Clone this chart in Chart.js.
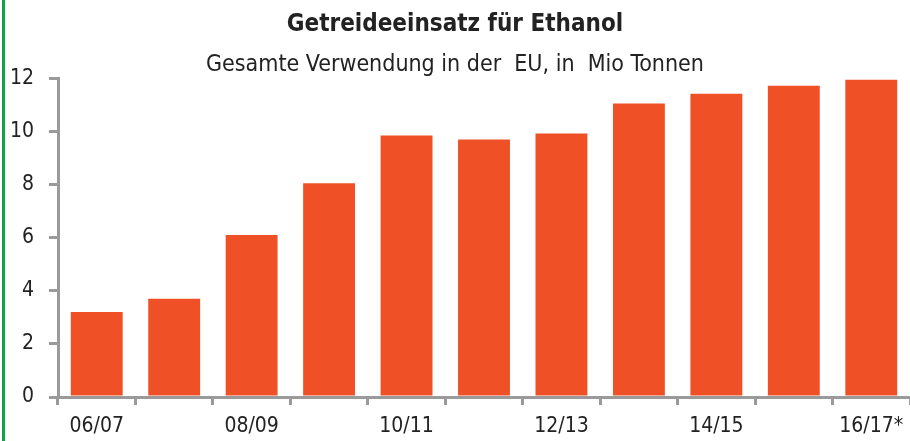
<!DOCTYPE html>
<html>
<head>
<meta charset="utf-8">
<script src="https://cdn.jsdelivr.net/npm/chart.js@4/dist/chart.umd.min.js"></script>
<style>
  html, body { margin: 0; padding: 0; background: #fff; }
  #wrap { position: relative; width: 910px; height: 441px; }
  #rand { position: absolute; left: 2px; top: 0; width: 3px; height: 441px; background: #12a04a; }
</style>
</head>
<body>
<div id="wrap">
  <canvas id="chart" width="910" height="441"></canvas>
  <div id="rand"></div>
</div>
<script>
// Wirtschaftsjahre und Getreideeinsatz (Mio t)
const jahre = ['06/07', '07/08', '08/09', '09/10', '10/11', '11/12', '12/13', '13/14', '14/15', '15/16', '16/17*'];
const werte = [3.2, 3.7, 6.1, 8.05, 9.85, 9.7, 9.92, 11.05, 11.42, 11.72, 11.95];
const yTicks = [0, 2, 4, 6, 8, 10, 12];

const schrift = "'Liberation Sans Narrow', 'DejaVu Sans Condensed', 'Roboto Condensed', sans-serif";
Chart.defaults.font.family = schrift;
Chart.defaults.color = '#222';

const achsenGrau = '#9a9a9a';

new Chart(document.getElementById('chart'), {
    type: 'bar',
    data: {
        labels: jahre,
        datasets: [{
            data: werte,
            backgroundColor: '#ef5026',
            borderWidth: 0,
            categoryPercentage: 1,
            barPercentage: 0.67
        }]
    },
    options: {
        responsive: false,
        animation: false,
        layout: { padding: { left: 0, right: 0, top: 0, bottom: 0 } },
        plugins: {
            legend: { display: false },
            tooltip: { enabled: false },
            title: {
                display: true,
                text: 'Getreideeinsatz für Ethanol',
                font: { size: 24, weight: 'bold' },
                color: '#222',
                padding: { top: 10, bottom: 12 }
            },
            subtitle: {
                display: true,
                text: 'Gesamte Verwendung in der  EU, in  Mio Tonnen',
                font: { size: 23 },
                color: '#222',
                padding: { top: 0, bottom: 0 }
            }
        },
        scales: {
            x: {
                afterFit: function(scale) {
                    scale.height = 44;
                },
                grid: {
                    display: true,
                    offset: true,
                    drawOnChartArea: false,
                    drawTicks: true,
                    tickLength: 8,
                    color: achsenGrau,
                    lineWidth: 3
                },
                border: { display: true, color: achsenGrau, width: 3 },
                ticks: {
                    autoSkip: false,
                    maxRotation: 0,
                    padding: 3,
                    font: { size: 21, lineHeight: 1.8 },
                    callback: function(val, i) {
                        return i % 2 === 0 ? this.getLabelForValue(val) : '';
                    }
                }
            },
            y: {
                min: 0,
                max: 12,
                afterBuildTicks: function(scale) {
                    scale.ticks = yTicks.map(v => ({ value: v }));
                },
                afterFit: function(scale) {
                    scale.width = 58;
                },
                grid: {
                    drawOnChartArea: false,
                    drawTicks: true,
                    tickLength: 9,
                    color: achsenGrau,
                    lineWidth: 3
                },
                border: { display: true, color: achsenGrau, width: 3 },
                ticks: {
                    padding: 15,
                    font: { size: 21 }
                }
            }
        }
    }
});
</script>
</body>
</html>
